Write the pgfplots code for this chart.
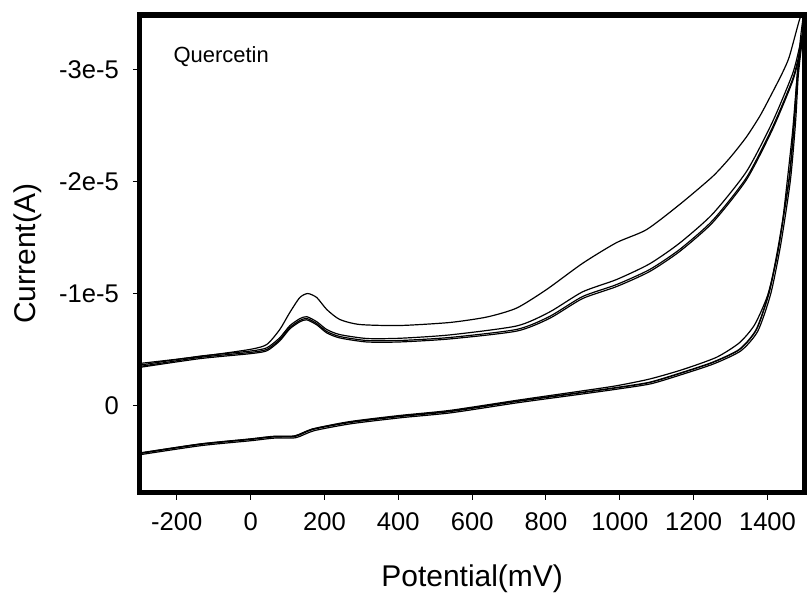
\documentclass[border=0pt]{standalone}
\usepackage{fontspec}
\setmainfont{Liberation Sans}
\usepackage{pgfplots}
\pgfplotsset{compat=1.18}
\usepackage{pgfplotstable}

\pgfplotstableread{
x y
-300 -0.375
-137.6 -0.437
-2.3 -0.50
43.8 -0.545
79.0 -0.679
106.0 -0.830
133.1 -0.964
154.7 -1.00
179.1 -0.964
206.2 -0.857
241.4 -0.768
295.5 -0.723
403.8 -0.714
539.1 -0.741
640 -0.790
720.5 -0.870
801.7 -1.036
899.1 -1.27
991.1 -1.455
1072.3 -1.571
1161.7 -1.795
1251 -2.045
1300 -2.220
1343 -2.400
1380 -2.590
1413 -2.795
1440 -2.970
1459 -3.116
1486.5 -3.446
1500 -3.55
}\upA

\pgfplotstableread{
x y
-300 -0.360
-137.6 -0.440
-2.3 -0.485
43.8 -0.515
79.0 -0.605
106.0 -0.712
133.1 -0.775
152.0 -0.793
179.1 -0.748
206.2 -0.678
241.4 -0.633
314.4 -0.598
403.8 -0.600
539.1 -0.630
720.5 -0.710
809.8 -0.835
899.1 -1.015
991.1 -1.125
1080.5 -1.265
1161.7 -1.450
1251 -1.710
1343 -2.090
1413 -2.530
1467.5 -2.960
1486.5 -3.200
1500 -3.420
}\upB

\pgfplotstableread{
x y
-300 -0.348
-137.6 -0.429
-2.3 -0.473
43.8 -0.500
79.0 -0.589
106.0 -0.696
133.1 -0.759
152.0 -0.777
179.1 -0.732
206.2 -0.661
241.4 -0.616
314.4 -0.580
403.8 -0.580
539.1 -0.607
720.5 -0.679
809.8 -0.795
899.1 -0.973
991.1 -1.080
1080.5 -1.214
1161.7 -1.393
1251 -1.652
1343 -2.036
1413 -2.482
1467.5 -2.911
1486.5 -3.150
1500 -3.400
}\upC

\pgfplotstableread{
x y
-300 -0.340
-137.6 -0.418
-2.3 -0.462
43.8 -0.488
79.0 -0.577
106.0 -0.684
133.1 -0.747
152.0 -0.765
179.1 -0.720
206.2 -0.648
241.4 -0.603
314.4 -0.567
403.8 -0.567
539.1 -0.594
720.5 -0.664
809.8 -0.778
899.1 -0.955
991.1 -1.062
1080.5 -1.196
1161.7 -1.375
1251 -1.633
1343 -2.017
1413 -2.463
1467.5 -2.893
1486.5 -3.130
1500 -3.400
}\upD

\pgfplotstableread{
x y
1500 -3.55
1490 -3.30
1478 -2.85
1468 -2.45
1454 -2.02
1440 -1.62
1424 -1.30
1400 -0.98
1365 -0.72
1324 -0.56
1262 -0.43
1170 -0.32
1080 -0.235
990 -0.175
899 -0.130
720 -0.045
539 0.045
404 0.090
268 0.145
168 0.210
119.5 0.272
60 0.277
-2.3 0.300
-137.6 0.345
-300 0.425
}\loA

\pgfplotstableread{
x y
1500 -3.40
1490 -3.20
1481 -2.95
1473 -2.554
1459 -2.036
1432 -1.464
1405 -1.018
1370 -0.679
1324 -0.500
1251 -0.384
1162 -0.286
1080 -0.205
990 -0.158
899 -0.116
720 -0.036
539 0.054
404 0.098
268 0.152
168 0.214
119.5 0.277
60 0.281
-2.3 0.304
-137.6 0.348
-300 0.429
}\loB

\pgfplotstableread{
x y
1500 -3.40
1491 -3.18
1483 -2.93
1476 -2.53
1462 -2.01
1436 -1.44
1409 -1.00
1374 -0.665
1328 -0.488
1255 -0.372
1166 -0.274
1084 -0.193
994 -0.146
903 -0.104
724 -0.024
543 0.066
408 0.110
272 0.164
172 0.226
122 0.289
62 0.293
0 0.316
-135 0.360
-300 0.441
}\loC

\begin{document}
\begin{tikzpicture}
\begin{axis}[
  name=ax,
  scale only axis,
  width=332.5pt, height=239pt,
  xmin=-300, xmax=1500,
  ymin=-3.49, ymax=0.78,
  y dir=reverse,
  axis line style={line width=2.6pt, line cap=rect},
  axis x line*=bottom, axis y line*=left,
  tick align=outside,
  major tick length=3.5pt,
  every tick/.style={black, line width=0.5pt},
  xtick={-200,0,200,400,600,800,1000,1200,1400},
  xticklabels={-200,0,200,400,600,800,1000,1200,1400},
  ytick={-3,-2,-1,0},
  yticklabels={-3e-5,-2e-5,-1e-5,0},
  tick label style={font=\fontsize{12.8}{15}\selectfont},
  xticklabel style={yshift=-3pt},
  yticklabel style={xshift=-3.5pt},
  xlabel={Potential(mV)},
  ylabel={Current(A)},
  label style={font=\fontsize{15}{18}\selectfont},
  xlabel style={at={(axis description cs:0.5,0)}, anchor=center, yshift=-43pt},
  ylabel style={at={(axis description cs:0,0.5)}, anchor=center, yshift=56pt},
  cycle list={{black}},
  every axis plot/.append style={line width=0.6pt, no markers, smooth, tension=0.4},
]
\addplot table {\upA};
\addplot table {\upB};
\addplot table {\upC};
\addplot table {\upD};
\addplot table {\loA};
\addplot[black, line width=0.8pt] table {\loB};
\addplot table {\loC};
\node[anchor=west, font=\fontsize{11}{13}\selectfont] at (axis cs:-228,-3.12) {Quercetin};
\end{axis}
\draw[line width=2.6pt, line cap=rect] (ax.south west) rectangle (ax.north east);
\path ([xshift=-70pt,yshift=-50.5pt]ax.south west) rectangle ([xshift=1pt,yshift=7.5pt]ax.north east);
\end{tikzpicture}
\end{document}
